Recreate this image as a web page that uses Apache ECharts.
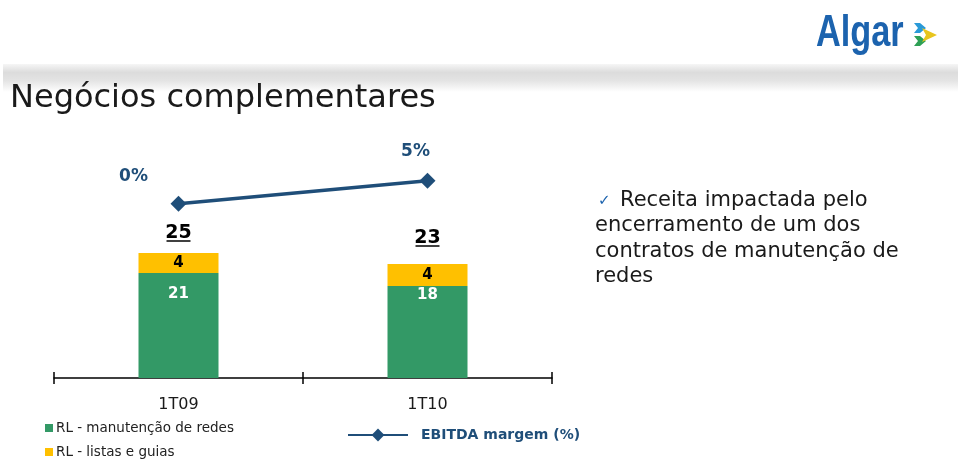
<!DOCTYPE html>
<html><head><meta charset="utf-8">
<script src="https://cdn.jsdelivr.net/npm/echarts@6/dist/echarts.min.js"></script>
<style>html,body{margin:0;padding:0;background:#fff}#c{width:960px;height:460px}</style>
</head><body><div id="c"></div>
<script>
const categories = ['1T09', '1T10'];
const redes = [21, 18.4];
const listas = [4, 4.4];
const totals = [25, 23];
const ebitda = [0, 5];
const noteLines = ['Receita impactada pelo', 'encerramento de um dos', 'contratos de manutenção de', 'redes'];

const F = '"DejaVu Sans", Verdana, sans-serif';
const chart = echarts.init(document.getElementById('c'), null, {renderer: 'canvas'});
const totalPos = redes.map((v, i) => v + listas[i]);
const greenLabelDist = [14, 2];
const totalGap = [20, 26];

chart.setOption({
  animation: false,
  backgroundColor: '#fff',
  grid: [
    {left: 54, right: 408, top: 128, bottom: 82},
    {left: 54, right: 408, top: 128, bottom: 82}
  ],
  xAxis: [{
    type: 'category', data: categories, gridIndex: 0, position: 'bottom',
    axisLine: {lineStyle: {color: '#000', width: 1.5}},
    axisTick: {show: true, length: 6, lineStyle: {color: '#000', width: 1.5}},
    axisLabel: {color: '#1a1a1a', fontFamily: F, fontSize: 16, margin: 19}
  }, {
    type: 'category', data: categories, gridIndex: 1, position: 'bottom',
    axisLine: {show: false},
    axisTick: {show: true, inside: true, length: 6, lineStyle: {color: '#000', width: 1.5}},
    axisLabel: {show: false}
  }],
  yAxis: [
    {type: 'value', gridIndex: 0, min: 0, max: 50, show: false},
    {type: 'value', gridIndex: 0, min: -38, max: 16.5, show: false},
    {type: 'value', gridIndex: 1, min: 0, max: 50, show: false}
  ],
  legend: [{
    orient: 'vertical', left: 45, top: 421, padding: 0, itemWidth: 8, itemHeight: 8, itemGap: 10,
    icon: 'rect',
    textStyle: {fontFamily: F, fontSize: 13.5, lineHeight: 14, color: '#222', padding: [0, 0, 0, -2]},
    data: ['RL - manutenção de redes', 'RL - listas e guias']
  }, {
    left: 342, top: 423, itemWidth: 60, itemHeight: 16,
    textStyle: {fontFamily: F, fontSize: 14, fontWeight: 'bold', color: '#1F4E79', padding: [0, 0, 0, 8]},
    data: ['EBITDA margem (%)']
  }],
  series: [{
    name: 'RL - manutenção de redes', type: 'bar', stack: 'rl', barWidth: 80,
    data: redes.map((v, i) => ({value: v, label: {distance: greenLabelDist[i]}})),
    itemStyle: {color: '#339966'},
    label: {show: true, position: 'insideTop', color: '#fff', fontFamily: F, fontSize: 15, fontWeight: 'bold',
      formatter: p => Math.round(p.value)}
  }, {
    name: 'RL - listas e guias', type: 'bar', stack: 'rl', barWidth: 80,
    data: listas, itemStyle: {color: '#FFC000'},
    label: {show: true, position: 'inside', color: '#000', fontFamily: F, fontSize: 15, fontWeight: 'bold',
      formatter: p => Math.round(p.value)}
  }, {
    name: 'total', type: 'custom', data: totalPos.map((v, i) => [i, v, totals[i]]),
    renderItem: (params, api) => {
      const pt = api.coord([api.value(0), api.value(1)]);
      const txt = String(api.value(2));
      const y = pt[1] - totalGap[params.dataIndex];
      return {type: 'group', children: [
        {type: 'text', x: pt[0], y: y, style: {text: txt, fontFamily: F, fontSize: 19, fontWeight: 'bold', fill: '#000', align: 'center', verticalAlign: 'middle'}},
        {type: 'line', shape: {x1: pt[0] - 12, y1: y + 8, x2: pt[0] + 12, y2: y + 8}, style: {stroke: '#000', lineWidth: 1.5}}
      ]};
    },
    z: 5
  }, {
    name: 'EBITDA margem (%)', type: 'line', yAxisIndex: 1,
    data: [
      {value: ebitda[0], label: {offset: [-45, -6]}},
      {value: ebitda[1], label: {offset: [-12, -8]}}
    ],
    symbol: 'diamond', symbolSize: 16,
    lineStyle: {color: '#1F4E79', width: 3.5}, itemStyle: {color: '#1F4E79'},
    label: {show: true, position: 'top', color: '#1F4E79', fontFamily: F, fontSize: 17, fontWeight: 'bold',
      formatter: p => p.value + '%'},
    z: 6
  }],
  graphic: [
    {type: 'rect', left: 3, top: 64, shape: {width: 955, height: 28},
      style: {fill: {type: 'linear', x: 0, y: 0, x2: 0, y2: 1, colorStops: [
        {offset: 0, color: '#f6f6f6'}, {offset: 0.3, color: '#dcdcdc'}, {offset: 0.6, color: '#e4e4e4'}, {offset: 1, color: '#ffffff'}]}}},
    {type: 'text', left: 10, top: 83, style: {text: 'Negócios complementares', fontFamily: F, fontSize: 32, fill: '#1a1a1a'}},
    {type: 'text', x: 816, y: 12, scaleX: 0.78, style: {text: 'Algar', fontFamily: '"Liberation Sans", Arial, sans-serif', fontSize: 44, fontWeight: 'bold', fill: '#1C63AE'}},
    {type: 'polygon', shape: {points: [[914, 23], [920, 23], [926, 28], [920, 33], [914, 33], [918, 28]]}, style: {fill: '#2A9AD8'}},
    {type: 'polygon', shape: {points: [[914, 36], [920, 36], [926, 41], [920, 46], [914, 46], [918, 41]]}, style: {fill: '#2EA055'}},
    {type: 'polygon', shape: {points: [[922, 28], [937, 35], [922, 42], [926, 35]]}, style: {fill: '#E8C51E'}},
    {type: 'text', left: 598, top: 194, style: {text: '✓', fontFamily: F, fontSize: 15, fill: '#1C63AE'}},
    {type: 'text', left: 620, top: 190, style: {text: noteLines[0], fontFamily: F, fontSize: 21, fill: '#1a1a1a'}},
    {type: 'text', left: 595, top: 213, style: {text: noteLines.slice(1).join('\n'), fontFamily: F, fontSize: 21, lineHeight: 25.5, fill: '#1a1a1a'}}
  ]
});
</script></body></html>
